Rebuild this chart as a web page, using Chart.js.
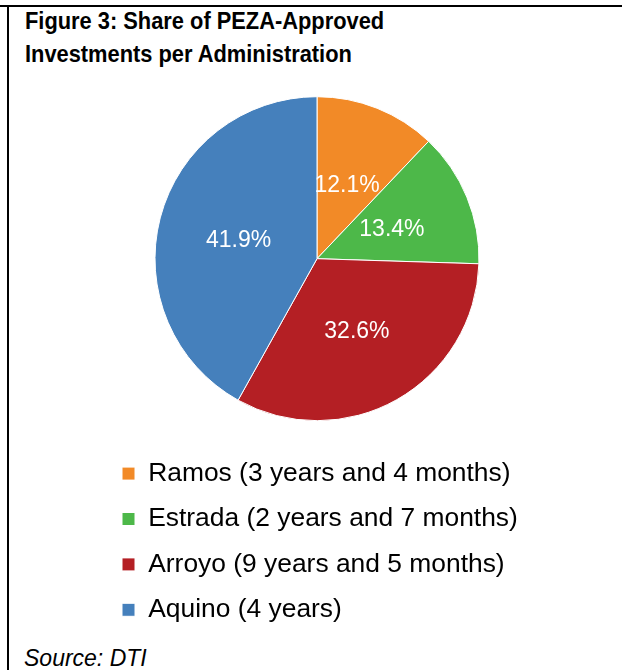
<!DOCTYPE html>
<html>
<head>
<meta charset="utf-8">
<title>Share of PEZA-Approved Investments per Administration</title>
<script src="https://cdn.jsdelivr.net/npm/chart.js@4.4.1/dist/chart.umd.min.js"></script>
<style>
    html, body {
        margin: 0;
        padding: 0;
        background: #fff;
    }
    #figure {
        position: relative;
        width: 622px;
        height: 670px;
        overflow: hidden;
        font-family: "Liberation Sans", Arial, sans-serif;
    }
    .rule-top {
        position: absolute;
        left: 0;
        top: 5px;
        width: 622px;
        height: 2px;
        background: #000;
    }
    .rule-left {
        position: absolute;
        left: 7px;
        top: 5px;
        width: 2px;
        height: 665px;
        background: #000;
    }
    #figure-title {
        position: absolute;
        left: 25px;
        top: 4px;
        margin: 0;
        font-size: 24px;
        font-weight: bold;
        line-height: 33.4px;
        white-space: nowrap;
        transform: scaleX(0.91);
        transform-origin: left top;
    }
    #figure-source {
        position: absolute;
        left: 24px;
        top: 646px;
        font-size: 23px;
        font-style: italic;
        line-height: 24px;
    }
    #chart-box {
        position: absolute;
        left: 0;
        top: 0;
        width: 622px;
        height: 640px;
    }
</style>
</head>
<body>
<div id="figure">
    <div class="rule-top"></div>
    <div class="rule-left"></div>
    <h3 id="figure-title">Figure 3: Share of PEZA-Approved<br>Investments per Administration</h3>
    <div id="chart-box"><canvas id="share-chart"></canvas></div>
    <div id="figure-source">Source: DTI</div>
</div>
<script>
"use strict";

// Administrations and their share (%) of approved investments
var administrations = [
    "Ramos (3 years and 4 months)",
    "Estrada (2 years and 7 months)",
    "Arroyo (9 years and 5 months)",
    "Aquino (4 years)"
];
var shares = [12.1, 13.4, 32.6, 41.9];
var sliceColors = ["#F28A27", "#4DB849", "#B41F24", "#4580BC"];

/**
 * Writes the percentage in the middle of every slice.
 */
var sliceLabels = {
    id: "sliceLabels",
    afterDatasetsDraw: function (chart) {
        var ctx = chart.ctx;
        var meta = chart.getDatasetMeta(0);
        var values = chart.data.datasets[0].data;

        ctx.save();
        ctx.font = "23px 'Liberation Sans', Arial, sans-serif";
        ctx.fillStyle = "#fff";
        ctx.textAlign = "center";
        ctx.textBaseline = "middle";
        meta.data.forEach(function (arc, i) {
            var pos = arc.tooltipPosition();
            ctx.fillText(values[i].toFixed(1) + "%", pos.x, pos.y + 2);
        });
        ctx.restore();
    }
};

var chart = new Chart(document.getElementById("share-chart"), {
    type: "pie",
    data: {
        labels: administrations,
        datasets: [{
            data: shares,
            backgroundColor: sliceColors,
            borderColor: "#fff",
            borderWidth: 1,
            hoverOffset: 0,
            radius: 162
        }]
    },
    plugins: [sliceLabels],
    options: {
        responsive: true,
        maintainAspectRatio: false,
        animation: false,
        layout: {
            padding: { top: 76, left: 103, right: 91, bottom: 7 }
        },
        plugins: {
            legend: {
                position: "bottom",
                align: "start",
                labels: {
                    boxWidth: 13,
                    boxHeight: 13,
                    padding: 19,
                    color: "#000",
                    font: { family: "'Liberation Sans', Arial, sans-serif", size: 26.4 }
                }
            },
            tooltip: { enabled: false }
        }
    }
});
</script>
</body>
</html>
